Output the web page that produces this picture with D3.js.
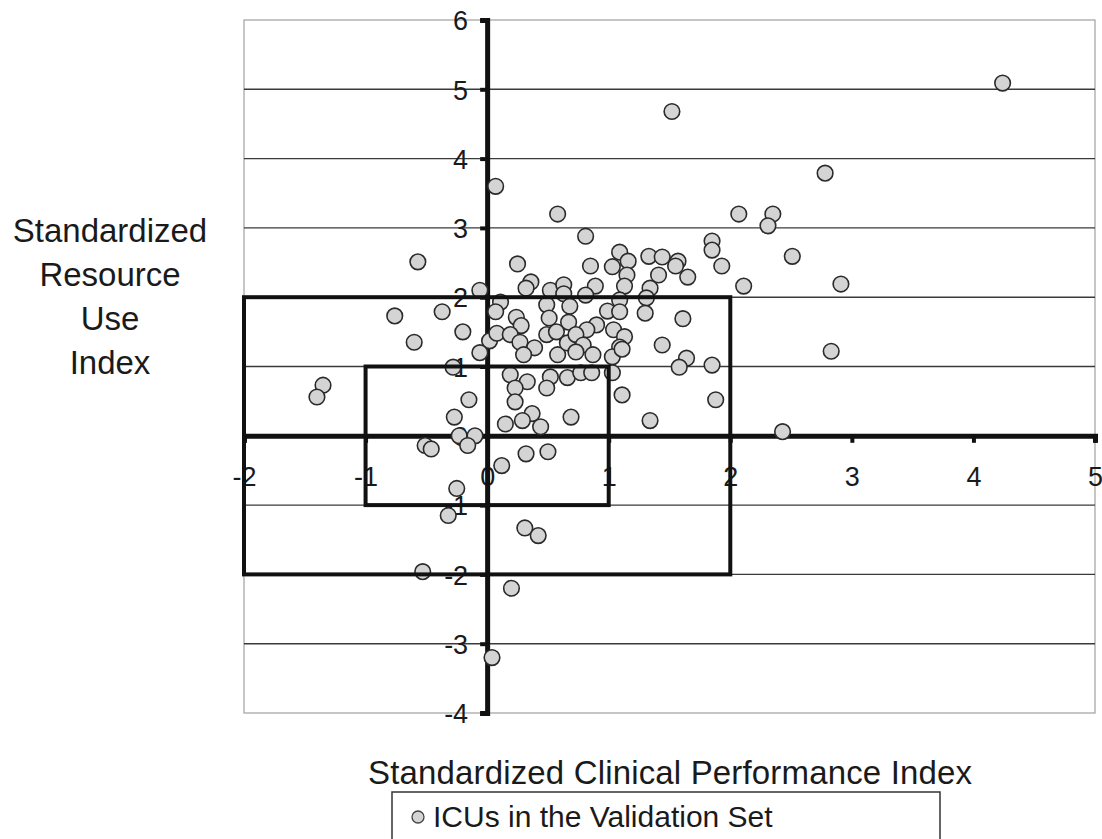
<!DOCTYPE html>
<html>
<head>
<meta charset="utf-8">
<script src="https://cdn.jsdelivr.net/npm/d3@7"></script>
<style>
body { margin: 0; background: #fff; }
svg { font-family: "Liberation Sans", Arial, sans-serif; }
</style>
</head>
<body>
<div id="chart"></div>
<script>
// clinical performance (x) vs resource use (y), one entry per ICU
var cpi = [4.24, 2.78, 2.07, 2.35, 2.31, 1.85, 1.85, 1.93, 2.51, 2.11, 2.91, 2.83, 1.85, 1.88, 2.43,
    1.52, 0.07, 0.58, 0.81,
    0.25, 0.85, 1.09, 1.16, 1.03, 1.15, 1.33, 1.44, 1.57, 1.55, 1.41, 1.65, 0.36, 0.32, 0.52, 0.63,
    0.63, 0.89, 0.81, 1.13, 1.34, 1.31, 1.09, -0.06, 0.11, 0.07, 0.49, 0.51, 0.68, 0.67, 0.24, 0.28,
    0.99, 1.09, 1.30, 1.61, 0.90, 1.04, 0.82, 1.13, 1.44, 1.09,
    0.02, 0.08, 0.19, 0.27, 0.39, 0.30, 0.49, 0.57, 0.58, 0.66, 0.73, 0.79, 0.73, 0.87, 1.03, 1.11,
    -0.06, 0.19, 0.33, 0.23, 0.52, 0.49, 0.66, 0.77, 0.86, 1.03, 1.64, 1.58, 1.11, 0.23, 0.37, 0.29,
    0.15, 0.44, 0.69, 1.34, 0.32, 0.50, 0.12, 0.31, 0.42, 0.20, 0.04,
    -0.57, -0.76, -0.37, -0.20, -0.60, -0.28, -1.35, -1.40, -0.15, -0.27, -0.23, -0.10, -0.16, -0.51,
    -0.46, -0.25, -0.32, -0.53];
var rui = [5.09, 3.79, 3.20, 3.20, 3.03, 2.81, 2.68, 2.45, 2.59, 2.16, 2.19, 1.22, 1.02, 0.52, 0.06,
    4.68, 3.60, 3.20, 2.88,
    2.48, 2.45, 2.65, 2.52, 2.44, 2.32, 2.59, 2.58, 2.52, 2.45, 2.32, 2.29, 2.22, 2.13, 2.10, 2.18,
    2.05, 2.16, 2.03, 2.16, 2.13, 1.99, 1.96, 2.10, 1.93, 1.79, 1.89, 1.70, 1.87, 1.64, 1.71, 1.59,
    1.80, 1.79, 1.77, 1.69, 1.60, 1.53, 1.53, 1.43, 1.31, 1.28,
    1.37, 1.48, 1.46, 1.35, 1.27, 1.17, 1.46, 1.50, 1.17, 1.34, 1.46, 1.31, 1.21, 1.17, 1.14, 1.25,
    1.20, 0.88, 0.78, 0.69, 0.85, 0.69, 0.84, 0.91, 0.91, 0.91, 1.12, 0.99, 0.59, 0.49, 0.32, 0.22,
    0.17, 0.13, 0.27, 0.22, -0.26, -0.23, -0.43, -1.33, -1.44, -2.20, -3.20,
    2.51, 1.73, 1.79, 1.50, 1.35, 0.99, 0.73, 0.56, 0.52, 0.27, 0.00, 0.00, -0.14, -0.14,
    -0.19, -0.76, -1.15, -1.96];

var xTicks = [-2, -1, 0, 1, 2, 3, 4, 5];
var yTicks = [-4, -3, -2, -1, 0, 1, 2, 3, 4, 5, 6];
var boxSizes = [2, 1];
var yTitle = ["Standardized", "Resource", "Use", "Index"];
var xTitle = "Standardized Clinical Performance Index";
var legendText = "ICUs in the Validation Set";

var points = cpi.map((d, i) => ({x: d, y: rui[i]}));

var svg = d3.select("#chart")
.append("svg")
.attr("width", 1102)
.attr("height", 839);

var xScale = d3.scaleLinear().domain([-2, 5]).range([244, 1095]);
var yScale = d3.scaleLinear().domain([-4, 6]).range([713, 20]);

// plot frame
svg.append("rect")
.attr("x", xScale(-2))
.attr("y", yScale(6))
.attr("width", xScale(5) - xScale(-2))
.attr("height", yScale(-4) - yScale(6))
.attr("fill", "none")
.attr("stroke", "#a0a0a0")
.attr("stroke-width", 1.2);

// gridlines
svg.append("g")
.selectAll("line")
.data(yTicks.filter(d => d > -4 && d < 6 && d !== 0))
.enter()
.append("line")
.attr("x1", xScale(-2))
.attr("x2", xScale(5))
.attr("y1", d => yScale(d))
.attr("y2", d => yScale(d))
.attr("stroke", "#3a3a3a")
.attr("stroke-width", 1.4);

// axes crossing at zero
var bottomAxis = d3.axisBottom(xScale).tickValues(xTicks).tickSize(7).tickPadding(24)
.tickFormat(d => String(d));
var leftAxis = d3.axisLeft(yScale).tickValues(yTicks).tickSize(7).tickPadding(12)
.tickFormat(d => String(d));

var xAxis = svg.append("g")
.attr("transform", `translate(0, ${yScale(0)})`)
.call(bottomAxis);

var yAxis = svg.append("g")
.attr("transform", `translate(${xScale(0)}, 0)`)
.call(leftAxis);

[xAxis, yAxis].forEach(function(ax) {
    ax.select(".domain").attr("stroke", "#111").attr("stroke-width", 5);
    ax.selectAll(".tick line").attr("stroke", "#111").attr("stroke-width", 4);
    ax.selectAll(".tick text")
    .attr("fill", "#1a1a1a")
    .attr("font-size", "27px")
    .attr("font-family", "Liberation Sans, Arial, sans-serif");
});
yAxis.selectAll(".tick text").attr("dy", "0.36em");

// ICU points
svg.append("g")
.selectAll("circle")
.data(points)
.enter()
.append("circle")
.attr("cx", d => xScale(d.x))
.attr("cy", d => yScale(d.y))
.attr("r", 7.8)
.attr("fill", "#d4d4d4")
.attr("stroke", "#2a2a2a")
.attr("stroke-width", 1.6);

// reference boxes
svg.append("g")
.selectAll("rect")
.data(boxSizes)
.enter()
.append("rect")
.attr("x", d => xScale(-d))
.attr("y", d => yScale(d))
.attr("width", d => xScale(d) - xScale(-d))
.attr("height", d => yScale(-d) - yScale(d))
.attr("fill", "none")
.attr("stroke", "#111")
.attr("stroke-width", 4);

// titles
var yTitleText = svg.append("text")
.attr("text-anchor", "middle")
.attr("font-size", "33px")
.attr("fill", "#1a1a1a");
yTitle.forEach(function(t, i) {
    yTitleText.append("tspan")
    .attr("x", 110)
    .attr("y", 242 + i * 44)
    .text(t);
});

svg.append("text")
.attr("x", 670)
.attr("y", 784)
.attr("text-anchor", "middle")
.attr("font-size", "33px")
.attr("textLength", 604)
.attr("fill", "#1a1a1a")
.text(xTitle);

// legend
svg.append("rect")
.attr("x", 392)
.attr("y", 792)
.attr("width", 548)
.attr("height", 70)
.attr("fill", "none")
.attr("stroke", "#333")
.attr("stroke-width", 1.5);

svg.append("circle")
.attr("cx", 418)
.attr("cy", 817)
.attr("r", 6)
.attr("fill", "#d4d4d4")
.attr("stroke", "#444")
.attr("stroke-width", 1.3);

svg.append("text")
.attr("x", 433)
.attr("y", 827)
.attr("font-size", "30px")
.attr("fill", "#1a1a1a")
.text(legendText);
</script>
</body>
</html>
